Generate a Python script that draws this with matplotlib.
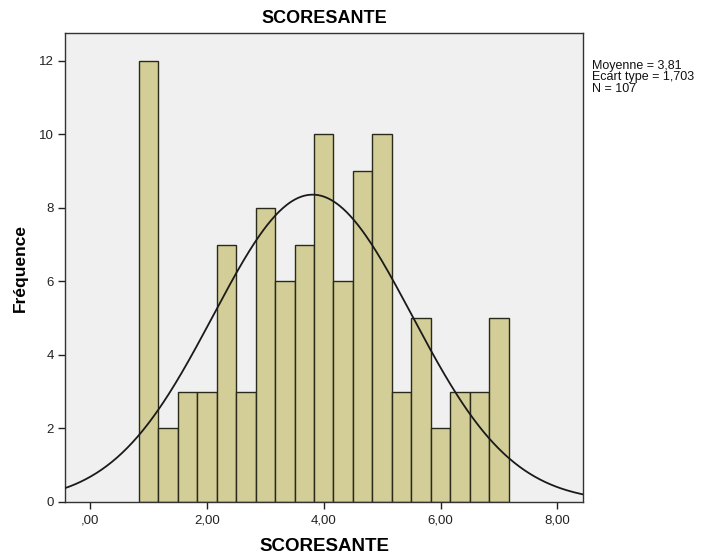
import numpy as np
import matplotlib
matplotlib.use("Agg")
import matplotlib.pyplot as plt
from matplotlib.ticker import FixedLocator

# Data
bin_centers = [1.0, 4/3, 5/3, 2.0, 7/3, 8/3, 3.0, 10/3, 11/3, 4.0,
               13/3, 14/3, 5.0, 16/3, 17/3, 6.0, 19/3, 20/3, 7.0]
counts = [12, 2, 3, 3, 7, 3, 8, 6, 7, 10, 6, 9, 10, 3, 5, 2, 3, 3, 5]
bin_width = 1/3
mean_val = 3.81
sd_val = 1.703
n_val = 107
x_ticks = [0, 2, 4, 6, 8]
x_tick_labels = [",00", "2,00", "4,00", "6,00", "8,00"]
y_ticks = [0, 2, 4, 6, 8, 10, 12]
title = "SCORESANTE"
xlabel = "SCORESANTE"
ylabel = "Fréquence"
stats_text = "Moyenne = 3,81\nEcart type = 1,703\nN = 107"

plt.rcParams['font.family'] = ['Liberation Sans', 'DejaVu Sans']

fig = plt.figure(figsize=(7.06, 5.55), dpi=100)
ax = fig.add_axes([65/706, 53/555, (583-65)/706, (502-33)/555])
ax.set_facecolor('#F0F0F0')

ax.bar(bin_centers, counts, width=bin_width, color='#D3CD97',
       edgecolor='#2a2a1a', linewidth=1.0, zorder=2)

xmin, xmax = -0.43, 8.44
xs = np.linspace(xmin, xmax, 400)
pdf = n_val * bin_width / (sd_val * np.sqrt(2*np.pi)) * np.exp(-0.5*((xs-mean_val)/sd_val)**2)
ax.plot(xs, pdf, color='#1a1a1a', linewidth=1.3, zorder=3)

ax.set_xlim(xmin, xmax)
ax.set_ylim(0, 12.75)
ax.xaxis.set_major_locator(FixedLocator(x_ticks))
ax.set_xticklabels(x_tick_labels)
ax.yaxis.set_major_locator(FixedLocator(y_ticks))
ax.set_yticklabels([str(v) for v in y_ticks])
ax.tick_params(axis='both', direction='out', length=5, width=1, labelsize=9.5,
               colors='#222222', pad=3)
ax.tick_params(axis='x', pad=4)
ax.tick_params(right=False, top=False)
for s in ax.spines.values():
    s.set_color('#333333')
    s.set_linewidth(1.0)

ax.set_title(title, fontsize=13, fontweight='bold', pad=7)
ax.set_xlabel(xlabel, fontsize=13.5, fontweight='bold', labelpad=8)
ax.set_ylabel(ylabel, fontsize=12.5, fontweight='bold', labelpad=8)

fig.text(592/706, 1 - 60/555, stats_text, fontsize=9, va='top', ha='left',
         linespacing=0.92, color='#111111')

fig.savefig("out.png", dpi=100, facecolor='white')
